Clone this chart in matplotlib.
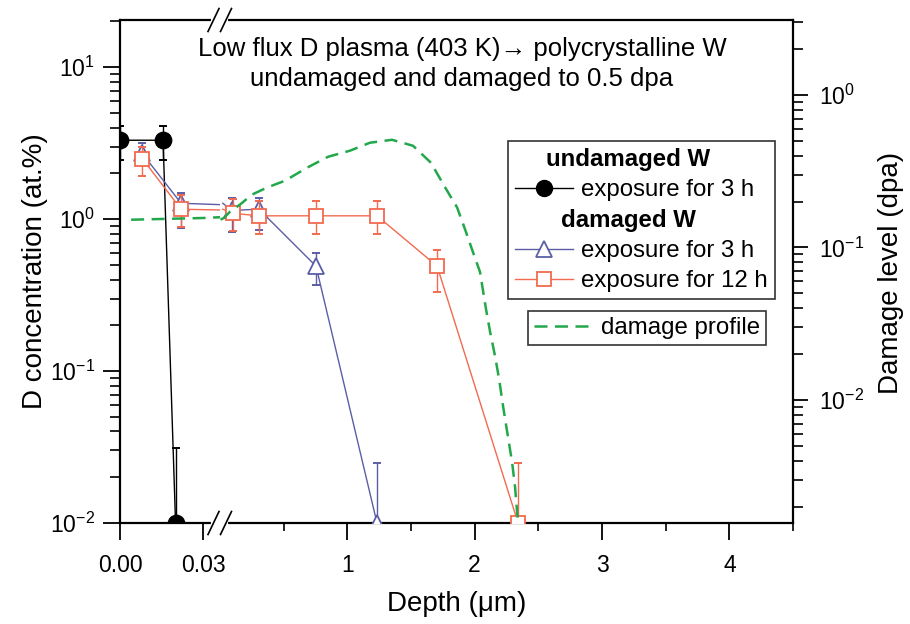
import matplotlib.pyplot as plt
import matplotlib.ticker as mticker
import matplotlib.transforms as mtransforms
from matplotlib.lines import Line2D
import numpy as np

plt.rcParams['font.family'] = ['Liberation Sans', 'DejaVu Sans']
plt.rcParams['mathtext.default'] = 'regular'

# undamaged W, exposure 3 h
undam_depth = [0.0, 0.0155, 0.020]
undam_conc = [3.3, 3.3, 0.01]
undam_lo = [2.45, 2.45, 0.01]
undam_hi = [4.1, 4.1, 0.031]

# damaged W, exposure 3 h
dam3_depth = [0.008, 0.022, 0.094, 0.306, 0.754, 1.233]
dam3_conc = [2.7, 1.27, 1.14, 1.16, 0.49, 0.01]
dam3_lo = [2.3, 0.87, 0.82, 0.85, 0.37, 0.01]
dam3_hi = [3.15, 1.48, 1.37, 1.37, 0.60, 0.025]

# damaged W, exposure 12 h
dam12_depth = [0.008, 0.022, 0.102, 0.306, 0.754, 1.233, 1.705, 2.341]
dam12_conc = [2.5, 1.16, 1.09, 1.05, 1.05, 1.05, 0.49, 0.01]
dam12_lo = [1.91, 0.89, 0.83, 0.80, 0.80, 0.80, 0.33, 0.01]
dam12_hi = [3.0, 1.45, 1.35, 1.31, 1.31, 1.31, 0.63, 0.025]

# calculated damage profile (dpa, right axis)
dmg_depth = [0.004, 0.03, 0.08, 0.157, 0.251, 0.369, 0.511, 0.683, 0.848,
             1.021, 1.178, 1.351, 1.516, 1.657, 1.760, 1.862, 1.925, 1.987,
             2.042, 2.090, 2.121, 2.160, 2.192, 2.223, 2.255, 2.294, 2.317,
             2.333, 2.341]
dmg_dpa = [0.152, 0.156, 0.172, 0.191, 0.222, 0.247, 0.274, 0.333, 0.393,
           0.431, 0.486, 0.508, 0.464, 0.359, 0.254, 0.183, 0.131, 0.093,
           0.069, 0.039, 0.028, 0.0194, 0.0137, 0.0091, 0.0062, 0.0039, 0.0027,
           0.00185, 0.0016]

BREAK = 0.036  # end of near-surface segment (um)
BLACK = 'black'
BLUE = '#5b5ea6'
RED = '#f26a4f'
GREEN = '#22a84a'

W, H = 910, 624
fig = plt.figure(figsize=(W / 100, H / 100), dpi=100)
x0, xb, x1 = 120, 220, 793
y0, y1 = 20, 523
axL = fig.add_axes([x0 / W, 1 - y1 / H, (xb - x0) / W, (y1 - y0) / H])
axR = fig.add_axes([xb / W, 1 - y1 / H, (x1 - xb) / W, (y1 - y0) / H])
axLd = axL.twinx()
axRd = axR.twinx()

for ax in (axL, axR):
    ax.set_yscale('log')
    ax.set_ylim(0.01, 20.4)
for ax in (axLd, axRd):
    ax.set_yscale('log')
    ax.set_ylim(0.00156, 3.1)
for ax in (axL, axLd):
    ax.set_xlim(0, BREAK)
for ax in (axR, axRd):
    ax.set_xlim(0, 4.5)


def draw_series(depth, conc, lo, hi, color, marker, ms, mfc, z):
    depth = np.asarray(depth)
    conc = np.asarray(conc)
    elo = conc - np.asarray(lo)
    ehi = np.asarray(hi) - conc
    near = depth <= BREAK
    far = ~near
    # connecting lines, split over the break
    if near.any():
        idx = np.where(near)[0]
        last = min(idx[-1] + 1, len(depth) - 1)
        axL.plot(depth[:last + 1], conc[:last + 1], color=color, lw=1.0, zorder=z)
    if far.any():
        first = max(np.where(far)[0][0] - 1, 0)
        axR.plot(depth[first:], conc[first:], color=color, lw=1.0, zorder=z)
    for ax, sel in ((axL, near), (axR, far)):
        if not sel.any():
            continue
        ax.errorbar(depth[sel], conc[sel], yerr=[elo[sel], ehi[sel]], fmt='none',
                    ecolor=color, elinewidth=1.0, capsize=2.6, capthick=1.4,
                    zorder=z + 0.1)
        ax.plot(depth[sel], conc[sel], linestyle='none', marker=marker, ms=ms,
                mfc=mfc, mec=color, mew=1.3, zorder=z + 0.2)


draw_series(undam_depth, undam_conc, undam_lo, undam_hi, BLACK, 'o', 11.5, BLACK, 3)
draw_series(dam3_depth, dam3_conc, dam3_lo, dam3_hi, BLUE, '^', 12, 'white', 4)
draw_series(dam12_depth, dam12_conc, dam12_lo, dam12_hi, RED, 's', 10, 'white', 5)

for ax in (axLd, axRd):
    ax.plot(dmg_depth, dmg_dpa, color=GREEN, lw=1.8, dashes=(5.2, 3.0))

# spines
for ax in (axL, axR, axLd, axRd):
    for s in ax.spines.values():
        s.set_linewidth(1.6)
axL.spines['right'].set_visible(False)
axR.spines['left'].set_visible(False)
axR.spines['right'].set_visible(False)
for s in axLd.spines.values():
    s.set_visible(False)
for side in ('top', 'bottom', 'left'):
    axRd.spines[side].set_visible(False)

# ticks
axL.yaxis.set_major_locator(mticker.LogLocator(base=10, numticks=10))
axL.yaxis.set_minor_locator(mticker.LogLocator(base=10, subs=np.arange(2, 10), numticks=20))
axL.yaxis.set_minor_formatter(mticker.NullFormatter())
axL.tick_params(axis='y', which='major', direction='out', length=12, width=1.3,
                labelsize=16.5, pad=6)
axL.tick_params(axis='y', which='minor', direction='out', length=7, width=1.2)
axL.set_xticks([0, 0.03])
axL.set_xticklabels(['0.00', '0.03'])
axL.xaxis.set_minor_locator(mticker.NullLocator())
axL.tick_params(axis='x', which='major', direction='out', length=12, width=1.3,
                labelsize=16.5, pad=10)

axR.tick_params(axis='y', which='both', left=False, labelleft=False)
axR.set_xticks([1, 2, 3, 4])
axR.xaxis.set_minor_locator(mticker.FixedLocator([0.5, 1.5, 2.5, 3.5, 4.5]))
axR.tick_params(axis='x', which='major', direction='out', length=12, width=1.3,
                labelsize=16.5, pad=10)
axR.tick_params(axis='x', which='minor', direction='out', length=6, width=1.2)

axLd.yaxis.set_major_locator(mticker.NullLocator())
axLd.yaxis.set_minor_locator(mticker.NullLocator())
axRd.yaxis.set_major_locator(mticker.LogLocator(base=10, numticks=10))
axRd.yaxis.set_minor_locator(mticker.LogLocator(base=10, subs=np.arange(2, 10), numticks=20))
axRd.yaxis.set_minor_formatter(mticker.NullFormatter())
axRd.tick_params(axis='y', which='major', direction='out', length=11, width=1.3,
                 labelsize=16.5, pad=8)
axRd.tick_params(axis='y', which='minor', direction='out', length=7, width=1.2)

# break marks "//" on top and bottom spines
seg_w = float(x1 - xb)
for ypx in (y1, y0):
    ya = (y1 - ypx) / (y1 - y0)
    dy = 11.5 / (y1 - y0)
    axRd.plot([-7 / seg_w, 6 / seg_w], [ya, ya], color='white', lw=3,
              clip_on=False, zorder=10, transform=axRd.transAxes)
    for cx in (-6.5, 6.0):
        axRd.plot([(cx - 5.5) / seg_w, (cx + 5.5) / seg_w], [ya - dy, ya + dy],
                  color='black', lw=1.2, clip_on=False, zorder=11,
                  transform=axRd.transAxes)

# legends
h_hdr1 = Line2D([], [], linestyle='none')
h_und = Line2D([], [], color=BLACK, lw=1.0, marker='o', ms=11.5, mfc=BLACK, mec=BLACK)
h_hdr2 = Line2D([], [], linestyle='none')
h_d3 = Line2D([], [], color=BLUE, lw=1.0, marker='^', ms=12, mfc='white', mec=BLUE, mew=1.3)
h_d12 = Line2D([], [], color=RED, lw=1.0, marker='s', ms=10, mfc='white', mec=RED, mew=1.3)
leg1 = axRd.legend([h_hdr1, h_und, h_hdr2, h_d3, h_d12],
                   ['undamaged W', 'exposure for 3 h', 'damaged W',
                    'exposure for 3 h', 'exposure for 12 h'],
                   loc='upper right', bbox_to_anchor=((775 - xb) / seg_w, 1 - (141 - y0) / 503),
                   borderaxespad=0, fontsize=17.3, frameon=True, fancybox=False,
                   edgecolor='#333333', framealpha=1, handlelength=2.4,
                   handletextpad=0.35, labelspacing=0.33, borderpad=0.3)
leg1.get_frame().set_linewidth(1.2)
texts = leg1.get_texts()
for t, shift in ((texts[0], -35), (texts[2], -20)):
    t.set_fontweight('bold')
    t.set_transform(t.get_transform() + mtransforms.Affine2D().translate(shift, 0))
axRd.add_artist(leg1)

h_dmg = Line2D([], [], color=GREEN, lw=1.8, dashes=(5.2, 3.0))
leg2 = axRd.legend([h_dmg], ['damage profile'], loc='upper right',
                   bbox_to_anchor=((766 - xb) / seg_w, 1 - (311 - y0) / 503),
                   borderaxespad=0, fontsize=17.3, frameon=True, fancybox=False,
                   edgecolor='#333333', framealpha=1, handlelength=2.4,
                   handletextpad=0.4, borderpad=0.25)
leg2.get_frame().set_linewidth(1.2)

# titles and axis labels
fig.text(462 / W, 1 - 64 / H,
         'Low flux D plasma (403 K)\u2192 polycrystalline W\n'
         'undamaged and damaged to 0.5 dpa',
         ha='center', va='center', fontsize=18.5, linespacing=1.3)
fig.text((x0 + x1) / 2 / W, 1 - 604 / H, 'Depth (\u03bcm)', ha='center', va='center',
         fontsize=20)
fig.text(35 / W, 1 - 271 / H, 'D concentration (at.%)', ha='center', va='center',
         rotation=90, fontsize=20)
fig.text(891 / W, 1 - 273 / H, 'Damage level (dpa)', ha='center', va='center',
         rotation=90, fontsize=20)

fig.savefig('out.png', dpi=100)
